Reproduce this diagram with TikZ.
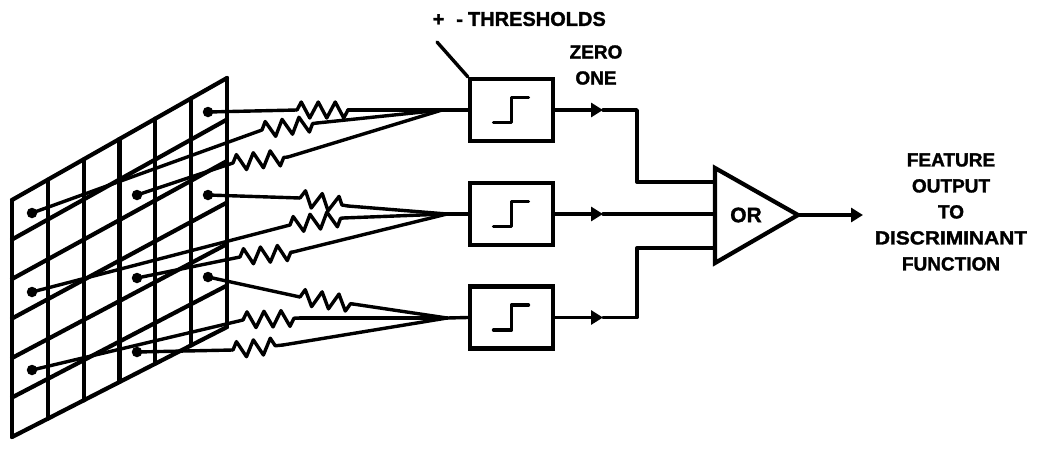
\documentclass[tikz,border=0pt]{standalone}
\usepackage{fontspec}
\setmainfont{Liberation Sans}[BoldFeatures={FakeBold=1.5}]
\usetikzlibrary{calc,decorations.pathmorphing,arrows.meta}
\begin{document}
\begin{tikzpicture}[x=1pt,y=-1pt,
  wire/.style={line width=3.4pt, line cap=round, line join=round},
  gridline/.style={line width=4.2pt, line cap=round},
  res/.style={wire, decorate, decoration={zigzag, segment length=17pt, amplitude=8pt}},
  thbox/.style={draw, line width=4.2pt, minimum width=83pt, minimum height=62pt, inner sep=0pt},
  lab/.style={font=\fontsize{19}{26}\selectfont\bfseries, inner sep=0pt, align=center},
  tip/.style={-{Triangle[length=12pt,width=14pt]}},
  dotc/.style={circle, fill, inner sep=0pt, minimum size=10.5pt},
]
\useasboundingbox (0,0) rectangle (1038,450);

% ---------- retina grid ----------
\coordinate (TL) at (12,200);
\coordinate (TR) at (227,78);
\coordinate (BL) at (12,437);
\coordinate (BR) at (227,327);
\foreach \i in {0,...,6} {
  \draw[gridline] ($(TL)!{\i/6}!(TR)$) -- ($(BL)!{\i/6}!(BR)$);
  \draw[gridline] ($(TL)!{\i/6}!(BL)$) -- ($(TR)!{\i/6}!(BR)$);
}

% ---------- sensing points ----------
\node[dotc] (d61) at (208,112) {};
\node[dotc] (d11) at (32,213) {};
\node[dotc] (d42) at (137,195) {};
\node[dotc] (d63) at (208,195) {};
\node[dotc] (d13) at (32,292) {};
\node[dotc] (d44) at (137,278) {};
\node[dotc] (d65) at (208,277) {};
\node[dotc] (d15) at (32,370) {};
\node[dotc] (d46) at (137,352) {};

% ---------- threshold boxes ----------
\node[thbox] (b1) at (511.5,110) {};
\node[thbox] (b2) at (511.5,214) {};
\node[thbox] (b3) at (511.5,317.5) {};
\foreach \b in {b1,b2,b3} {
  \draw[wire] ($(\b.center)+(-18,12.5)$) -- ++(18,0) -- ++(0,-25) -- ++(17,0);
}

% ---------- summing points ----------
\coordinate (s1) at (442,110);
\coordinate (s2) at (447,214);
\coordinate (s3) at (447,318);

% ---------- resistor end points ----------
\coordinate (r1a) at (297,110); \coordinate (r1b) at (348,110);
\coordinate (r2a) at (262,130); \coordinate (r2b) at (317,123);
\coordinate (r3a) at (233,163); \coordinate (r3b) at (288,157);
\coordinate (r4a) at (300,198); \coordinate (r4b) at (348,206);
\coordinate (r5a) at (290,225); \coordinate (r5b) at (343,218);
\coordinate (r6a) at (240,257); \coordinate (r6b) at (293,252);
\coordinate (r7a) at (300,297); \coordinate (r7b) at (353,304);
\coordinate (r8a) at (243,320); \coordinate (r8b) at (300,318);
\coordinate (r9a) at (233,350); \coordinate (r9b) at (283,345);

% wires from points to resistors
\draw[wire] (d61.center) -- (r1a);
\draw[wire] (d11.center) -- (r2a);
\draw[wire] (d42.center) -- (r3a);
\draw[wire] (d63.center) -- (r4a);
\draw[wire] (d13.center) -- (r5a);
\draw[wire] (d44.center) -- (r6a);
\draw[wire] (d65.center) -- (r7a);
\draw[wire] (d15.center) -- (r8a);
\draw[wire] (d46.center) -- (r9a);

% resistors
\foreach \r in {1,...,9} {
  \draw[res] (r\r a) -- (r\r b);
}

% resistors to summing points
\draw[wire] (r1b) -- (s1); \draw[wire] (r2b) -- (s1); \draw[wire] (r3b) -- (s1);
\draw[wire] (r4b) -- (s2); \draw[wire] (r5b) -- (s2); \draw[wire] (r6b) -- (s2);
\draw[wire] (r7b) -- (s3); \draw[wire] (r8b) -- (s3); \draw[wire] (r9b) -- (s3);
\draw[wire] (s1) -- (b1.west);
\draw[wire] (s2) -- (b2.west);
\draw[wire] (s3) -- (b3.west);

% ---------- OR gate ----------
\coordinate (gT) at (715,168);
\coordinate (gB) at (715,263);
\coordinate (gA) at (798,215);
\draw[line width=4.2pt, line join=miter] (gT) -- (gA) -- (gB) -- cycle;
\node[lab, font=\fontsize{21}{25}\selectfont\bfseries] (orl) at (746,215) {OR};

% box outputs to gate
\coordinate (a1) at (603,110); \coordinate (c1) at (637,110); \coordinate (o1) at (715,182);
\coordinate (a2) at (603,214); \coordinate (o2) at (715,214);
\coordinate (a3) at (603,317.5); \coordinate (c3) at (637,317.5); \coordinate (o3) at (715,248);
\draw[wire,tip] (b1.east) -- (a1);
\draw[wire] (a1) -- (c1) |- (o1);
\draw[wire,tip] (b2.east) -- (a2);
\draw[wire] (a2) -- (o2);
\draw[wire,tip] (b3.east) -- (a3);
\draw[wire] (a3) -- (c3) |- (o3);

% gate output
\coordinate (out) at (863,215);
\draw[wire,tip] (gA) -- (out);

% ---------- labels ----------
\node[lab] (feat) at (951,212) {FEATURE\\OUTPUT\\TO\\\scalebox{1.1}[1]{DISCRIMINANT}\\FUNCTION};
\node[lab] (zo) at (596,65) {ZERO\\ONE};
\node[lab, font=\fontsize{20}{26}\selectfont\bfseries, anchor=east] (thr) at (606,19) {+\hspace{12pt}-\hspace{5pt}THRESHOLDS};
\coordinate (ldr) at (437,42);
\draw[wire] (ldr) -- (b1.north west);
\end{tikzpicture}
\end{document}
